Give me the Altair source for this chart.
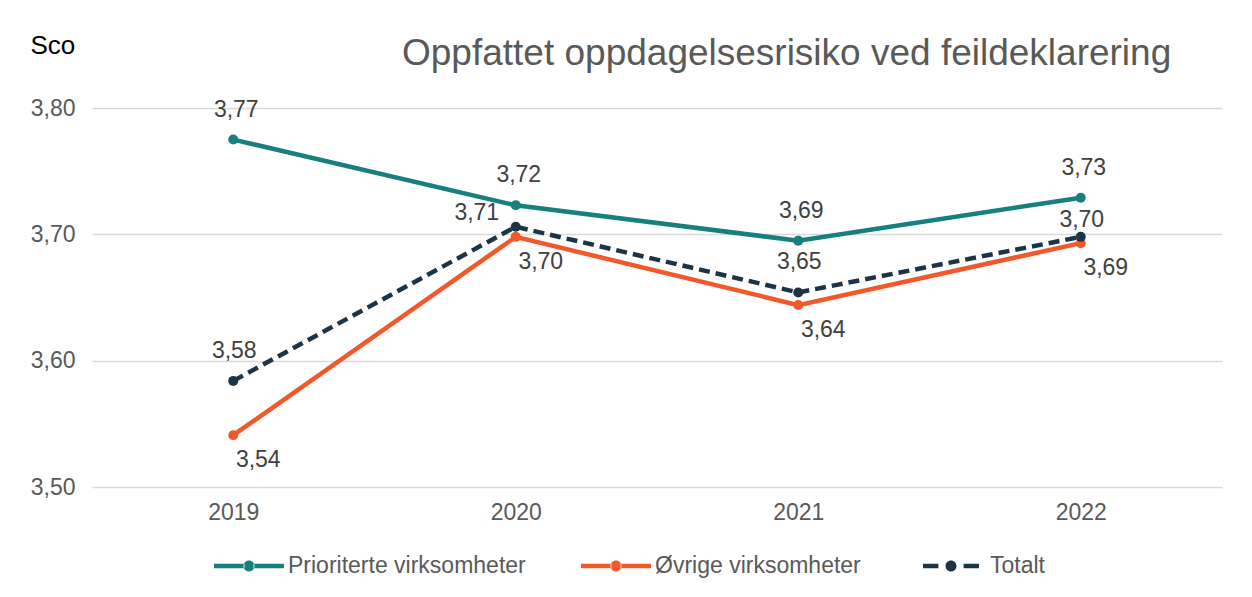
import altair as alt
import pandas as pd

years = ["2019", "2020", "2021", "2022"]
series_names = ["Prioriterte virksomheter", "Øvrige virksomheter", "Totalt"]
prioriterte = [3.775, 3.723, 3.695, 3.729]
ovrige = [3.541, 3.698, 3.644, 3.693]
totalt = [3.584, 3.706, 3.654, 3.698]
colors = ["#177f7d", "#f1592a", "#1d3447"]
y_ticks = [3.5, 3.6, 3.7, 3.8]
title_text = "Oppfattet oppdagelsesrisiko ved feildeklarering"
y_title = "Sco"

rows = []
for name, vals in zip(series_names, [prioriterte, ovrige, totalt]):
    for yr, v in zip(years, vals):
        rows.append({"year": yr, "series": name, "value": v})
df = pd.DataFrame(rows)

FONT = "Liberation Sans"
GREY = "#595959"

color_scale = alt.Scale(domain=series_names, range=colors)

x_enc = alt.X(
    "year:O",
    scale=alt.Scale(type="point", padding=0.5),
    axis=alt.Axis(title=None, labelAngle=0, labelFontSize=23, labelColor=GREY,
                  labelPadding=14, domain=False, ticks=False, grid=False),
)
y_enc = alt.Y(
    "value:Q",
    scale=alt.Scale(domain=[3.5, 3.8], nice=False, zero=False),
    axis=alt.Axis(
        values=y_ticks,
        labelExpr="replace(format(datum.value, '.2f'), '.', ',')",
        title=y_title, titleAngle=0, titleX=-62, titleY=-63,
        titleAlign="left", titleBaseline="middle", titleFontSize=26,
        titleFontWeight="normal", titleColor="#000000",
        labelFontSize=23, labelColor=GREY, labelPadding=17,
        domain=False, ticks=False, gridColor="#d9d9d9", gridWidth=1.5,
    ),
)

base = alt.Chart(df)

solid_path = ("M-1,-0.066L-0.13,-0.066L-0.13,0.066L-1,0.066Z "
              "M0.13,-0.066L1,-0.066L1,0.066L0.13,0.066Z "
              "M-0.157,0A0.157,0.157 0 1,0 0.157,0A0.157,0.157 0 1,0 -0.157,0Z")
dash_path = ("M-0.8,-0.066L-0.36,-0.066L-0.36,0.066L-0.8,0.066Z "
             "M0.36,-0.066L0.8,-0.066L0.8,0.066L0.36,0.066Z "
             "M-0.157,0A0.157,0.157 0 1,0 0.157,0A0.157,0.157 0 1,0 -0.157,0Z")
paths = [solid_path, solid_path, dash_path]

leg = alt.Legend(title=None, orient="none", legendX=122, legendY=423,
                 direction="horizontal", labelFontSize=23, labelColor=GREY,
                 labelFont=FONT, columnPadding=55, symbolSize=4900,
                 labelOffset=4, labelLimit=600, symbolStrokeWidth=0,
                 symbolOpacity=1)

# legend carrier layer (zero-sized points, legend only)
legend_layer = (
    base.mark_point(filled=True, opacity=1, size=0)
    .encode(
        x=x_enc, y=y_enc,
        color=alt.Color("series:N", scale=color_scale, legend=leg),
        shape=alt.Shape("series:N", scale=alt.Scale(domain=series_names, range=paths), legend=leg),
    )
)

layers = [legend_layer]
for name in series_names:
    kw = dict(strokeWidth=4.5,
              point=alt.OverlayMarkDef(filled=True, size=100, opacity=1))
    if name == "Totalt":
        kw["strokeDash"] = [11, 6]
    layers.append(
        base.transform_filter(alt.datum.series == name)
        .mark_line(**kw)
        .encode(x=x_enc, y=y_enc,
                color=alt.Color("series:N", scale=color_scale, legend=None))
    )


def label_layer(name, dx, dy, only=None, skip=None):
    c = base.transform_filter(alt.datum.series == name)
    if only is not None:
        c = c.transform_filter(alt.FieldOneOfPredicate(field="year", oneOf=only))
    if skip is not None:
        c = c.transform_filter(~alt.FieldOneOfPredicate(field="year", oneOf=skip))
    return (
        c.transform_calculate(label="replace(format(datum.value, '.2f'), '.', ',')")
        .mark_text(fontSize=23, color="#404040", dx=dx, dy=dy, baseline="middle", align="center")
        .encode(x=x_enc, y=y_enc, text="label:N")
    )


layers += [
    label_layer("Prioriterte virksomheter", 3, -30),
    label_layer("Øvrige virksomheter", 25, 25),
    label_layer("Totalt", 1, -30, skip=["2020", "2022"]),
    label_layer("Totalt", -39, -14, only=["2020"]),
    label_layer("Totalt", 1, -17, only=["2022"]),
]

chart = (
    alt.layer(*layers)
    .properties(
        width=1130, height=379,
        title=alt.Title(title_text, fontSize=37, font=FONT, fontWeight="normal",
                        color=GREY, anchor="start", frame="group", dx=310,
                        offset=0, dy=70, baseline="alphabetic"),
        autosize=alt.AutoSizeParams(type="none"),
        padding={"left": 84, "top": 100, "right": 22, "bottom": 102},
    )
    .configure(font=FONT, background="white")
    .configure_view(stroke=None)
)

chart.save("out.html", embed_options={"renderer": "svg", "actions": False})
